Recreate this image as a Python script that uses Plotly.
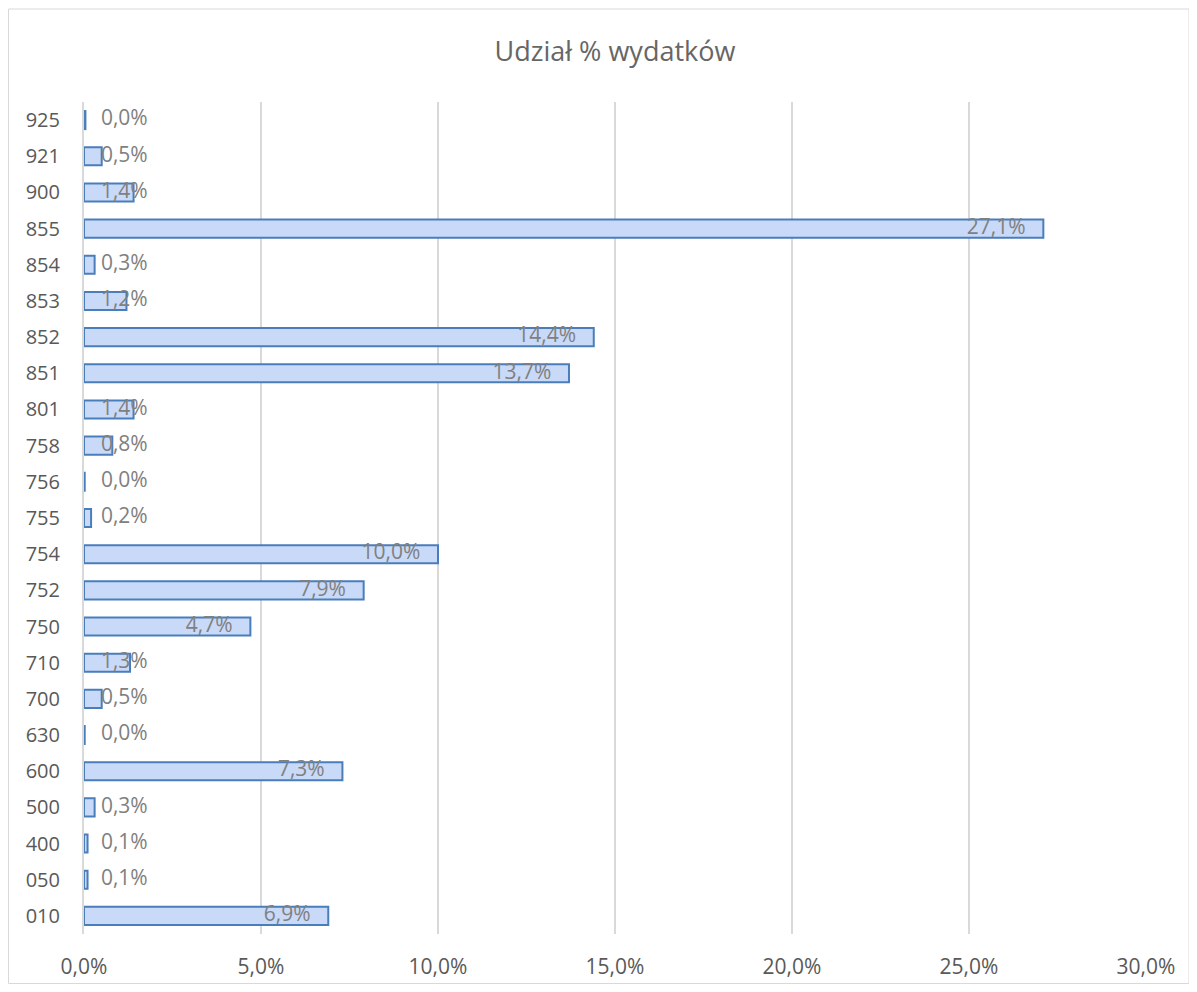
import plotly.graph_objects as go

categories = ["010", "050", "400", "500", "600", "630", "700", "710", "750", "752", "754",
              "755", "756", "758", "801", "851", "852", "853", "854", "855", "900", "921", "925"]
values = [6.9, 0.1, 0.1, 0.3, 7.3, 0.02, 0.5, 1.3, 4.7, 7.9, 10.0,
          0.2, 0.02, 0.8, 1.4, 13.7, 14.4, 1.2, 0.3, 27.1, 1.4, 0.5, 0.04]
tick_vals = [0, 5, 10, 15, 20, 25, 30]
tick_text = ["0,0%", "5,0%", "10,0%", "15,0%", "20,0%", "25,0%", "30,0%"]
title_text = "Udział % wydatków"

labels = [f"{v:.1f}".replace(".", ",") + "%" for v in values]
label_x = [max(v - 0.5, 1.8) for v in values]

W, H = 1182, 976
ml, mr, mt, mb = 76, 44, 94, 50
FONT = "'Open Sans', Lato, sans-serif"
GRAY = "#595959"

fig = go.Figure()
fig.add_trace(go.Bar(
    y=categories, x=values, orientation="h",
    marker=dict(color="#c9daf8", line=dict(color="#4a7ebb", width=2)),
    hoverinfo="skip", showlegend=False,
))
fig.add_trace(go.Scatter(
    y=categories, x=label_x, mode="text", text=labels,
    textposition="middle left",
    textfont=dict(family=FONT, size=21, color="#808080"),
    hoverinfo="skip", showlegend=False, cliponaxis=False,
))

pw = W - ml - mr
ph = H - mt - mb
fig.add_shape(type="rect", xref="paper", yref="paper",
              x0=(-ml + 0.5) / pw, x1=(pw + mr - 1) / pw,
              y0=(-mb + 0.5) / ph, y1=(ph + mt - 1) / ph,
              line=dict(color="#d9d9d9", width=1), layer="below")

fig.update_layout(
    width=W, height=H,
    margin=dict(l=ml, r=mr, t=mt, b=mb, autoexpand=False),
    paper_bgcolor="white", plot_bgcolor="white",
    bargap=0.5,
    title=dict(text=title_text, x=0.5, xref="paper", xanchor="center",
               y=1 - 44 / H, yanchor="middle", automargin=False,
               font=dict(family=FONT, size=27, color="#666666")),
    xaxis=dict(range=[0, 30], tickvals=tick_vals, ticktext=tick_text,
               showgrid=True, gridcolor="#d9d9d9", gridwidth=2,
               zeroline=False, showline=False, ticks="", automargin=False,
               ticklabelstandoff=18,
               tickfont=dict(family=FONT, size=21, color=GRAY)),
    yaxis=dict(type="category", categoryorder="array", categoryarray=categories,
               range=[-0.5, len(categories) - 0.5],
               showgrid=False, zeroline=False, showline=True, automargin=False,
               linecolor="#d9d9d9", linewidth=2, ticks="",
               ticklabelstandoff=18,
               tickfont=dict(family=FONT, size=20, color=GRAY)),
)

fig.write_html("out.html")
